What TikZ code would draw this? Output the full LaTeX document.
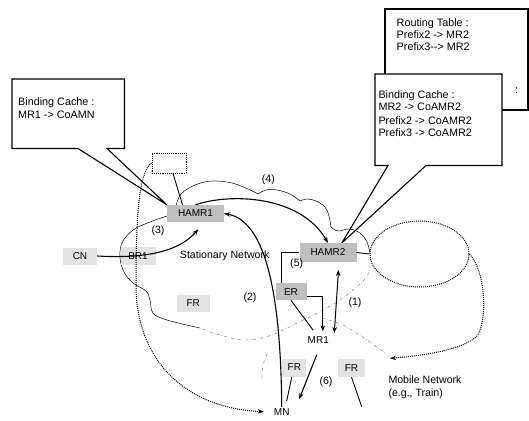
\documentclass[tikz,border=0pt]{standalone}
\usepackage{fontspec}
\setmainfont{Liberation Sans}
\usetikzlibrary{arrows.meta,shapes.geometric}
\begin{document}
\begin{tikzpicture}[x=1pt,y=-1pt,
  every node/.style={font=\fontsize{10.6}{12.8}\selectfont},
  boxtxt/.style={anchor=base west, inner sep=0pt, font=\fontsize{10.8}{13}\selectfont},
  rt/.style={inner sep=0pt, minimum height=17pt, text=black, font=\fontsize{10}{12}\selectfont},
  dk/.style={rt, fill=gray!50},
  lt/.style={rt, fill=gray!22},
  plain/.style={inner sep=1pt, font=\fontsize{10}{12}\selectfont},
  lbl/.style={inner sep=0pt},
  callout/.style={draw=black, line width=1.1pt, fill=white, line join=miter},
  arr/.style={line width=1.1pt, -{Stealth[length=6pt,width=4.5pt]}},
  dblarr/.style={line width=1pt, {Stealth[length=6pt,width=4.5pt]}-{Stealth[length=6pt,width=4.5pt]}},
  dotarr/.style={densely dotted, line width=1pt, -{Stealth[length=6pt,width=4.5pt]}},
  link/.style={line width=0.9pt},
  cloud/.style={line width=0.5pt},
  mobile/.style={gray, dash dot, line width=0.5pt},
]
\useasboundingbox (0,0) rectangle (529,420);

% callout boxes
\node[inner sep=0pt, minimum width=57pt, minimum height=17pt] (hamr1) at (195.5,213.5) {};
\node[inner sep=0pt, minimum width=57pt, minimum height=19pt] (hamr2) at (328,252.5) {};
\draw[callout] (12,79) -- (124.5,79) -- (124.5,148.5) -- (107,148.5) -- (hamr1.north west) -- (78,148.5) -- (12,148.5) -- cycle;
\node[boxtxt] at (18,105) {Binding Cache :};
\node[boxtxt] at (18,118.5) {MR1 -> CoAMN};

\draw[callout] (385,9) rectangle (528,110);
\node[boxtxt] at (396.5,26.7) {Routing Table :};
\node[boxtxt] at (396.5,38) {Prefix2 -> MR2};
\node[boxtxt] at (396.5,50) {Prefix3-{}-> MR2};
\node[boxtxt] at (515,93) {:};

\draw[callout] (375,74) -- (502,74) -- (502,165.5) -- (426,165.5) -- ([xshift=14pt]hamr2.north) -- (388,165.5) -- (375,165.5) -- cycle;
\node[boxtxt] at (378.3,98.3) {Binding Cache :};
\node[boxtxt] at (378.3,110.8) {MR2 -> CoAMR2};
\node[boxtxt] at (378.3,124) {Prefix2 -> CoAMR2};
\node[boxtxt] at (378.3,136.7) {Prefix3 -> CoAMR2};

% stationary network cloud
\draw[cloud] plot[smooth, tension=0.6] coordinates {(200,328) (167,320) (153,313) (150,300) (146,291) (133,283) (124,272) (120,258) (122,243) (133,230) (150,222) (167,216)};
\draw[cloud] plot[smooth, tension=0.6] coordinates {(176,206) (181,194) (195,185) (212,181) (232,183) (248,189) (258,194)};
\draw[cloud] plot[smooth, tension=0.6] coordinates {(258,194) (266,190) (277,190) (290,194) (300,201)};
\draw[cloud] plot[smooth, tension=0.6] coordinates {(300,201) (307,199) (316,201) (325,207) (329,216) (331,227)};
\draw[cloud] plot[smooth, tension=0.6] coordinates {(331,227) (338,231) (349,229) (360,233) (367,242) (370,253)};
\draw[mobile] plot[smooth, tension=0.6] coordinates {(370,258) (369,272) (360,284) (340,300) (323,310) (307,318) (287,328) (266,337) (243,340) (220,335) (200,328)};
% mobile network outline
\draw[mobile] plot[smooth, tension=0.6] coordinates {(322,318) (335,322) (347,327) (367,340) (385,353)};
\draw[mobile] plot[smooth, tension=0.6] coordinates {(262,378) (263,365) (268,352)};

% nodes
\node[dk, minimum width=57pt] at (hamr1) {HAMR1};
\node[dk, minimum width=57pt, minimum height=19pt] at (hamr2) {HAMR2};
\node[lt, minimum width=34pt] (cn) at (80,256) {CN};
\node[lt, minimum width=35pt, minimum height=18pt] (br1) at (138,256) {BR1};
\node[lt, minimum width=33pt] (fr1) at (193.3,303.3) {FR};
\node[dk, minimum width=31pt] (er) at (291,291.7) {ER};
\node[lt, minimum width=24pt, minimum height=18pt] (fr2) at (294.3,367.5) {FR};
\node[lt, minimum width=27pt, minimum height=18pt] (fr3) at (351.5,368) {FR};
\node[plain] (mr1) at (318.3,340) {MR1};
\node[plain] (mn) at (281.7,411.7) {MN};
\node[draw, densely dotted, line width=0.9pt, inner sep=0pt, minimum width=34pt, minimum height=20pt] (tmp) at (169,163) {};
\node[draw, ellipse, densely dotted, line width=1pt, inner sep=0pt, minimum width=99pt, minimum height=66pt] (mobnet) at (419.5,254) {};

\coordinate (a3) at (198.3,229.3);
\coordinate (c1a) at (338.5,270);
\coordinate (c1b) at (334.3,333);
\coordinate (fr3end) at (361.7,406.7);
\coordinate (mtip) at (390,358.3);

% connectors
\draw[link] ([xshift=4pt]tmp.south) -- ([xshift=-13pt]hamr1.north);
\draw[arr] (cn.east) .. controls (150,259) and (180,250) .. (a3);
\draw[arr] (hamr1.north) .. controls (230,193) and (300,195) .. (hamr2.north);
\draw[arr] (mn.north) .. controls (281,320) and (272,222) .. (hamr1.east);
\draw[link] (hamr2.west) -| ([xshift=6.5pt]er.north west);
\draw[arr] ([yshift=-5pt]er.east) -| ([xshift=4.5pt,yshift=4pt]mr1.north);
\draw[link] (er.south) -- ([xshift=-5pt,yshift=5pt]mr1.north);
\draw[dblarr] (c1a) -- (c1b);
\draw[arr] ([xshift=-1.5pt,yshift=-10pt]mr1.south) -- ([xshift=17.5pt,yshift=8pt]mn.north);
\draw[link] ([xshift=-2.5pt]fr2.south) -- ([xshift=5pt,yshift=6pt]mn.north);
\draw[link] (fr3.south) -- (fr3end);
\draw[link] (hamr2.east) -- (mobnet.west);
\draw[dotarr] (tmp.west) .. controls (138,172) and (136,225) .. (136,285) .. controls (136,360) and (185,408) .. ([xshift=-9pt]mn.west);
\draw[dotarr] (mobnet.east) .. controls (486,272) and (487,318) .. (478,335) .. controls (465,350) and (420,356) .. (mtip);

% labels
\node[lbl] at (268.3,180) {(4)};
\node[lbl] at (158,231) {(3)};
\node[lbl] at (296.7,264) {(5)};
\node[lbl] at (250,297.3) {(2)};
\node[lbl] at (355,302.7) {(1)};
\node[lbl] at (326,381.7) {(6)};
\node[lbl] at (224.7,256) {Stationary Network};
\node[lbl, anchor=base west] at (388.3,383.8) {Mobile Network};
\node[lbl, anchor=base west] at (388.3,396.5) {(e.g., Train)};
\end{tikzpicture}
\end{document}
